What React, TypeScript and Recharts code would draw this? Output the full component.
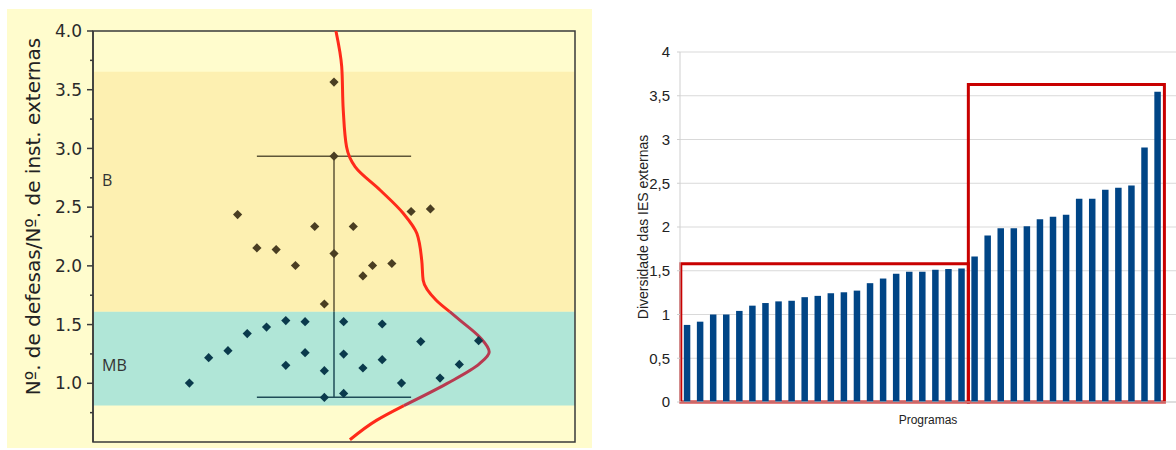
import React from 'react';
import {
  ComposedChart,
  Scatter,
  Line,
  XAxis,
  YAxis,
  ReferenceArea,
  ReferenceLine,
  BarChart,
  Bar,
  CartesianGrid,
} from 'recharts';

// ---------- LEFT PANEL DATA ----------
// x = jitter position (0..50), v = defesas / inst. externas
const mbPoints = [
  { x: 10, v: 1.002 }, { x: 12, v: 1.218 }, { x: 14, v: 1.278 }, { x: 16, v: 1.423 },
  { x: 18, v: 1.479 }, { x: 20, v: 1.534 }, { x: 20, v: 1.153 }, { x: 22, v: 1.525 },
  { x: 22, v: 1.261 }, { x: 24, v: 1.107 }, { x: 24, v: 0.880 }, { x: 26, v: 1.525 },
  { x: 26, v: 1.249 }, { x: 26, v: 0.914 }, { x: 28, v: 1.130 }, { x: 30, v: 1.505 },
  { x: 30, v: 1.201 }, { x: 32, v: 1.002 }, { x: 34, v: 1.355 }, { x: 36, v: 1.044 },
  { x: 38, v: 1.161 }, { x: 40, v: 1.363 },
];
const bPoints = [
  { x: 15, v: 2.437 }, { x: 17, v: 2.153 }, { x: 19, v: 2.139 }, { x: 21, v: 2.003 },
  { x: 23, v: 2.335 }, { x: 24, v: 1.675 }, { x: 25, v: 3.565 }, { x: 25, v: 2.934 },
  { x: 25, v: 2.105 }, { x: 27, v: 2.335 }, { x: 28, v: 1.914 }, { x: 29, v: 2.003 },
  { x: 31, v: 2.020 }, { x: 33, v: 2.463 }, { x: 35, v: 2.485 },
];
// density curve (x = horizontal position, v = value)
const densityUpper = [
  { v: 4.0, x: 25.2 }, { v: 3.696, x: 25.8 }, { v: 3.327, x: 25.96 }, { v: 3.014, x: 26.3 },
  { v: 2.843, x: 27.2 }, { v: 2.644, x: 29.8 }, { v: 2.446, x: 32.2 }, { v: 2.275, x: 33.6 },
  { v: 2.048, x: 34.1 }, { v: 1.877, x: 34.25 }, { v: 1.707, x: 35.6 }, { v: 1.61, x: 37.0 },
];
const densityMiddle = [
  { v: 1.61, x: 37.0 }, { v: 1.538, x: 38.05 }, { v: 1.394, x: 40.1 }, { v: 1.266, x: 41.1 },
  { v: 1.167, x: 40.1 }, { v: 0.997, x: 36.7 }, { v: 0.81, x: 32.25 },
];
const densityLower = [
  { v: 0.81, x: 32.25 }, { v: 0.684, x: 29.4 }, { v: 0.519, x: 26.65 },
];
const rangeLine = { x: 25, capFrom: 17, capTo: 33, low: 0.882, high: 2.934 };
const bandMB = { from: 0.81, to: 1.61 };
const bandB = { from: 1.61, to: 3.653 };
const leftDomain = { xMin: 0, xMax: 50, yMin: 0.5, yMax: 4.0 };
const leftTicks = [0.75, 1, 1.25, 1.5, 1.75, 2, 2.25, 2.5, 2.75, 3, 3.25, 3.5, 3.75, 4];

// ---------- RIGHT PANEL DATA ----------
const barValues = [
  0.881, 0.918, 1.0, 1.0, 1.041, 1.101, 1.131, 1.150, 1.157, 1.198, 1.213, 1.243,
  1.254, 1.273, 1.358, 1.411, 1.467, 1.489, 1.489, 1.511, 1.519, 1.526,
  1.663, 1.902, 1.985, 1.985, 2.008, 2.088, 2.118, 2.141, 2.323, 2.323, 2.425, 2.448,
  2.474, 2.910, 3.547,
];
const programLabels = barValues.map((_, i) => `P${i + 1}`);
const rightTicks = [0, 0.5, 1, 1.5, 2, 2.5, 3, 3.5, 4];
const boxMB = { first: 'P1', last: 'P22', top: 1.58 };
const boxB = { first: 'P23', last: 'P37', top: 3.63 };

const barData = barValues.map((valor, i) => ({ programa: programLabels[i], valor }));

const Diamond = (color: string) => (props: any) => {
  const { cx, cy } = props;
  if (cx == null || cy == null) return null;
  const r = 4.6;
  return (
    <path
      d={`M${cx},${cy - r}L${cx + r},${cy}L${cx},${cy + r}L${cx - r},${cy}Z`}
      fill={color}
    />
  );
};

const LeftTick = (props: any) => {
  const { x, y, payload } = props;
  const val = payload.value as number;
  const major = Math.abs(val * 2 - Math.round(val * 2)) < 1e-6;
  return (
    <g>
      <line x1={x - (major ? 6 : 3)} x2={x} y1={y} y2={y} stroke="#3a3a3a" strokeWidth={1.5} />
      {major && (
        <text
          x={x - 11}
          y={y}
          dy="0.36em"
          textAnchor="end"
          fontSize={17}
          fontFamily="DejaVu Sans"
          fill="#2a2a2a"
        >
          {val.toFixed(1)}
        </text>
      )}
    </g>
  );
};

const LeftChart = () => (
  <div
    style={{
      position: 'absolute',
      left: 7,
      top: 9,
      width: 585,
      height: 439,
      background: '#fffccd',
    }}
  >
    <ComposedChart
      width={585}
      height={439}
      layout="vertical"
      margin={{ top: 22, right: 17, bottom: 6, left: 0 }}
    >
      <XAxis
        type="number"
        dataKey="x"
        domain={[leftDomain.xMin, leftDomain.xMax]}
        hide
        allowDataOverflow
      />
      <YAxis
        type="number"
        dataKey="v"
        reversed
        domain={[leftDomain.yMin, leftDomain.yMax]}
        ticks={leftTicks}
        interval={0}
        allowDataOverflow
        width={86}
        tickSize={0}
        tickMargin={0}
        tickLine={false}
        axisLine={{ stroke: '#3a3a3a', strokeWidth: 1.5 }}
        tick={<LeftTick />}
        label={{
          value: 'Nº. de defesas/Nº. de inst. externas',
          angle: -90,
          position: 'insideLeft',
          offset: 26,
          dy: -20,
          fontSize: 20,
          fontFamily: 'DejaVu Sans',
          fill: '#222',
          style: { textAnchor: 'middle' },
        }}
      />
      <ReferenceArea
        y1={bandB.from}
        y2={bandB.to}
        fill="#fdf0b1"
        fillOpacity={1}
        stroke="none"
        label={{
          value: 'B',
          position: 'insideLeft',
          offset: 9,
          dy: -11,
          fontSize: 16,
          fontFamily: 'Open Sans',
          fill: '#333',
        }}
      />
      <ReferenceArea
        y1={bandMB.from}
        y2={bandMB.to}
        fill="#b0e6d7"
        fillOpacity={1}
        stroke="none"
        label={{
          value: 'MB',
          position: 'insideLeft',
          offset: 9,
          dy: 7,
          fontSize: 16,
          fontFamily: 'Open Sans',
          fill: '#333',
        }}
      />
      <ReferenceLine
        segment={[{ x: rangeLine.x, y: bandMB.to }, { x: rangeLine.x, y: rangeLine.high }]}
        stroke="#5e5638"
        strokeWidth={1.5}
      />
      <ReferenceLine
        segment={[{ x: rangeLine.capFrom, y: rangeLine.high }, { x: rangeLine.capTo, y: rangeLine.high }]}
        stroke="#5e5638"
        strokeWidth={1.5}
      />
      <ReferenceLine
        segment={[{ x: rangeLine.x, y: rangeLine.low }, { x: rangeLine.x, y: bandMB.to }]}
        stroke="#1f4c57"
        strokeWidth={1.5}
      />
      <ReferenceLine
        segment={[{ x: rangeLine.capFrom, y: rangeLine.low }, { x: rangeLine.capTo, y: rangeLine.low }]}
        stroke="#1f4c57"
        strokeWidth={1.5}
      />
      <Scatter data={bPoints} shape={Diamond('#4a3e22')} isAnimationActive={false} />
      <Scatter data={mbPoints} shape={Diamond('#0a3a4c')} isAnimationActive={false} />
      <Line
        data={densityUpper}
        dataKey="x"
        type="monotone"
        stroke="#ff2a1a"
        strokeWidth={3}
        dot={false}
        activeDot={false}
        isAnimationActive={false}
      />
      <Line
        data={densityMiddle}
        dataKey="x"
        type="monotone"
        stroke="#b83a50"
        strokeWidth={3}
        dot={false}
        activeDot={false}
        isAnimationActive={false}
      />
      <Line
        data={densityLower}
        dataKey="x"
        type="monotone"
        stroke="#ff2a1a"
        strokeWidth={3}
        dot={false}
        activeDot={false}
        isAnimationActive={false}
      />
      <ReferenceArea
        x1={leftDomain.xMin}
        x2={leftDomain.xMax}
        y1={leftDomain.yMin}
        y2={leftDomain.yMax}
        fill="none"
        stroke="#3a3a3a"
        strokeWidth={1.5}
      />
    </ComposedChart>
  </div>
);

const RightChart = () => (
  <div style={{ position: 'absolute', left: 600, top: 0, width: 576, height: 450, background: '#ffffff' }}>
    <BarChart
      width={576}
      height={450}
      data={barData}
      margin={{ top: 52, right: 0, bottom: 18, left: 0 }}
    >
      <CartesianGrid vertical={false} stroke="#d9d9d9" />
      <XAxis
        dataKey="programa"
        type="category"
        height={30}
        tick={false}
        tickLine={false}
        interval={0}
        padding={{ left: 0.8, right: 11.6 }}
        axisLine={{ stroke: '#d0d0d0' }}
        label={{
          value: 'Programas',
          position: 'insideTop',
          offset: 13,
          fontSize: 12,
          fontFamily: 'Liberation Sans',
          fill: '#222',
        }}
      />
      <YAxis
        type="number"
        domain={[0, 4]}
        ticks={rightTicks}
        interval={0}
        width={80}
        tickSize={3}
        tickMargin={7}
        tickLine={{ stroke: '#cfcfcf' }}
        axisLine={{ stroke: '#cfcfcf' }}
        tickFormatter={(v: number) => String(v).replace('.', ',')}
        tick={{ fontSize: 15, fontFamily: 'Liberation Sans', fill: '#222' }}
        label={{
          value: 'Diversidade das IES externas',
          angle: -90,
          position: 'insideLeft',
          offset: 43,
          fontSize: 14,
          fontFamily: 'Liberation Sans',
          fill: '#222',
          style: { textAnchor: 'middle' },
        }}
      />
      <Bar dataKey="valor" fill="#004586" barSize={6.5} isAnimationActive={false} />
      <ReferenceArea
        x1={boxMB.first}
        x2={boxMB.last}
        y1={0}
        y2={boxMB.top}
        fill="none"
        stroke="#c80000"
        strokeWidth={3}
        ifOverflow="visible"
      />
      <ReferenceArea
        x1={boxB.first}
        x2={boxB.last}
        y1={0}
        y2={boxB.top}
        fill="none"
        stroke="#c80000"
        strokeWidth={3}
        ifOverflow="visible"
      />
    </BarChart>
  </div>
);

export default function App() {
  return (
    <div style={{ position: 'absolute', left: 0, top: 0, width: 1176, height: 450, background: '#ffffff' }}>
      <LeftChart />
      <RightChart />
    </div>
  );
}
